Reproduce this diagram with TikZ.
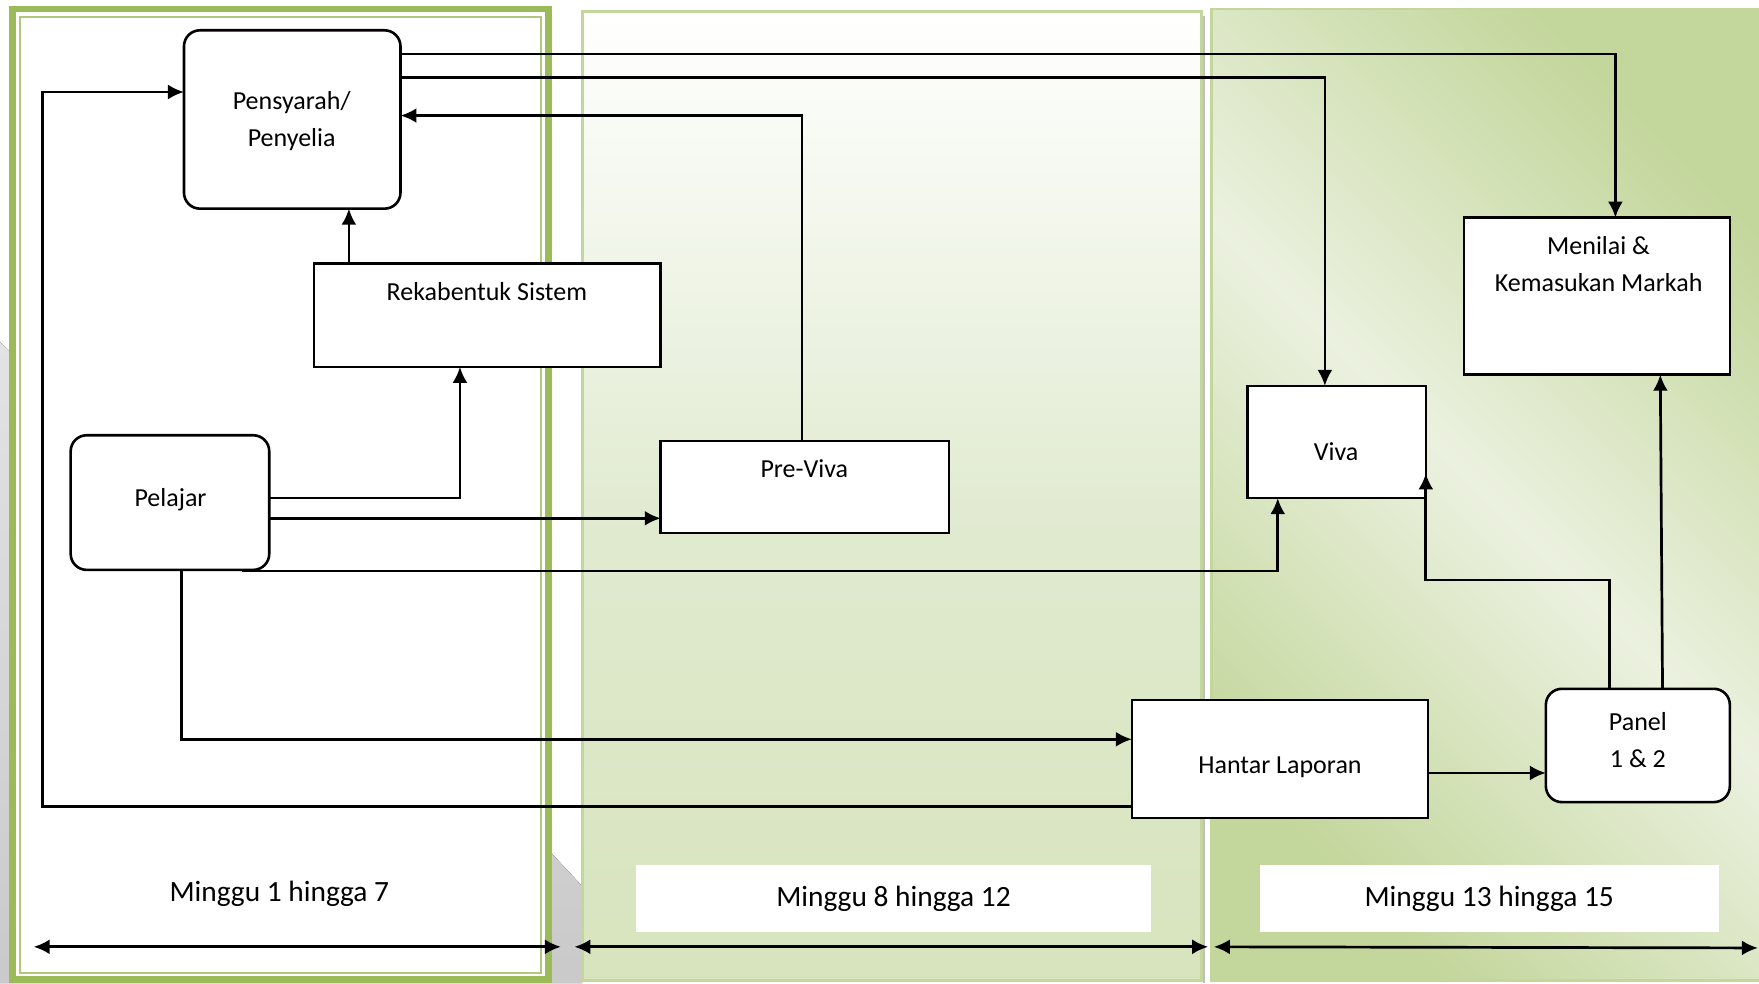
\documentclass[tikz,border=0pt]{standalone}
\usepackage{fontspec}
\setmainfont{Carlito}
\usetikzlibrary{calc,arrows.meta}
\definecolor{gThick}{HTML}{9BBB59}
\definecolor{gThin}{HTML}{AFC97A}
\definecolor{gBord}{HTML}{C3D69B}
\definecolor{pB}{HTML}{D7E4BD}
\definecolor{pM}{HTML}{E0EACF}
\definecolor{gEnd}{HTML}{C3D69B}
\definecolor{gMid}{HTML}{EBF1DF}
\pgfdeclareverticalshading{ptwo}{100bp}{color(0bp)=(pB); color(25bp)=(pB); color(48bp)=(pM); color(75bp)=(white); color(100bp)=(white)}
\pgfdeclarehorizontalshading{pthree}{100bp}{color(0bp)=(gEnd); color(25bp)=(gEnd); color(50bp)=(gMid); color(75bp)=(gEnd); color(100bp)=(gEnd)}
\tikzset{
  box/.style={draw, line width=1.3pt, fill=white, inner sep=0pt, outer sep=0pt, anchor=north west},
  rbox/.style={box, rounded corners=8pt},
  sz/.style 2 args={minimum width=#1*0.5609pt, minimum height=#2*0.5609pt},
  txt/.style={font=\fontsize{13}{18.5}\selectfont, align=center, inner sep=0pt},
  conn/.style={line width=1.35pt, -{Latex[length=8pt,width=7.5pt]}},
  span/.style={line width=1.35pt, {Latex[length=8pt,width=7.5pt]}-{Latex[length=8pt,width=7.5pt]}},
  lbl/.style={font=\fontsize{14.7}{17}\selectfont, inner sep=0pt},
  lblbox/.style={fill=white, inner sep=0pt, font=\fontsize{14.7}{17}\selectfont}
}
\begin{document}
\begin{tikzpicture}[x=0.5609pt, y=-0.5609pt]
\useasboundingbox (0,0) rectangle (1568,876.3);
% background grey swoosh
\fill[top color=gray!22, bottom color=gray!42] (0,305) -- (491,760) -- (519,790) -- (519,876.3) -- (0,876.3) -- cycle;
% panel 2
\shade[shading=ptwo] (519,10) rectangle (1071,874);
\draw[gBord, line width=1.3pt] (519,10) rectangle (1071,874);
\draw[gray!50, line width=1.2pt] (1073,14) -- (1073,876.3);
% panel 3
\shade[shading=pthree, shading angle=45] (1080,8) rectangle (1572,874);
\draw[gBord, line width=1.3pt] (1572,8) -- (1080,8) -- (1080,874) -- (1572,874);
% panel 1
\fill[white] (11,8) rectangle (489,873);
\draw[gThick, line width=3.4pt] (11,8) rectangle (489,873);
\draw[gThin, line width=0.9pt] (18,15) rectangle (482,867);

% boxes
\node[rbox, sz={193}{159}] (pen) at (164,27) {};
\node[txt] (pent) at (260,107.5) {Pensyarah/\\Penyelia};
\node[box, sz={309}{92}] (rek) at (280,235) {};
\node[txt] (rekt) at (434,260) {Rekabentuk Sistem};
\node[rbox, sz={177}{120}] (pel) at (63,388) {};
\node[txt] (pelt) at (152,445) {Pelajar};
\node[box, sz={257}{82}] (pre) at (589,393) {};
\node[txt] (pret) at (717,418) {Pre-Viva};
\node[box, sz={159}{100}] (viva) at (1112,344) {};
\node[txt] (vivat) at (1191,403) {Viva};
\node[box, sz={237}{140}] (men) at (1305,194) {};
\node[txt] (ment) at (1425,235.5) {Menilai \&\\Kemasukan Markah};
\node[box, sz={264}{105}] (han) at (1009,624) {};
\node[txt] (hant) at (1141,684) {Hantar Laporan};
\node[rbox, sz={164}{101}] (pan) at (1378,614) {};
\node[txt] (pant) at (1460,659.5) {Panel\\1 \& 2};

% labels
\node[lbl] (l1) at (249,797) {Minggu 1 hingga 7};
\node[lblbox, minimum width=459*0.5609pt, minimum height=60*0.5609pt] (l2) at (796.5,801) {Minggu 8 hingga 12};
\node[lblbox, minimum width=409*0.5609pt, minimum height=60*0.5609pt] (l3) at (1327.5,801) {Minggu 13 hingga 15};

% connectors
\coordinate (lft) at (38,82);
\draw[conn] ($(pen.north east)+(0,21)$) -| ($(men.north west)+(135,0)$);
\draw[conn] ($(pen.north east)+(0,42)$) -| ($(viva.north west)+(69,0)$);
\draw[conn] ($(pre.north west)+(126,0)$) |- ($(pen.north east)+(0,76)$);
\draw[conn] ($(rek.north west)+(31,0)$) -- ($(pen.south west)+(147,0)$);
\draw[conn] ($(pel.north east)+(0,56)$) -| ($(rek.south west)+(130,0)$);
\draw[conn] ($(pel.north east)+(0,74)$) -- ($(pre.north west)+(0,69)$);
\draw[conn] ($(pel.south west)+(153,1)$) -| ($(viva.south west)+(27,0)$);
\draw[conn] ($(pel.south west)+(99,0)$) |- ($(han.north west)+(0,35)$);
\draw[conn] ($(han.north west)+(0,95)$) -| (lft) -- ($(pen.north west)+(0,55)$);
\draw[conn] ($(han.north east)+(0,65)$) -- ($(pan.north west)+(0,75)$);
\draw[conn] ($(pan.north west)+(57,0)$) -- ++(0,-97) -| ($(viva.north east)+(0,78)$);
\draw[conn] ($(pan.north west)+(104,0)$) -- ($(men.south west)+(175,0)$);

% spans
\coordinate (s1a) at (30,844); \coordinate (s1b) at (500,844);
\coordinate (s2a) at (512,844); \coordinate (s2b) at (1077,844);
\coordinate (s3a) at (1082,844); \coordinate (s3b) at (1567,845);
\draw[span] (s1a) -- (s1b);
\draw[span] (s2a) -- (s2b);
\draw[span] (s3a) -- (s3b);
\end{tikzpicture}
\end{document}
